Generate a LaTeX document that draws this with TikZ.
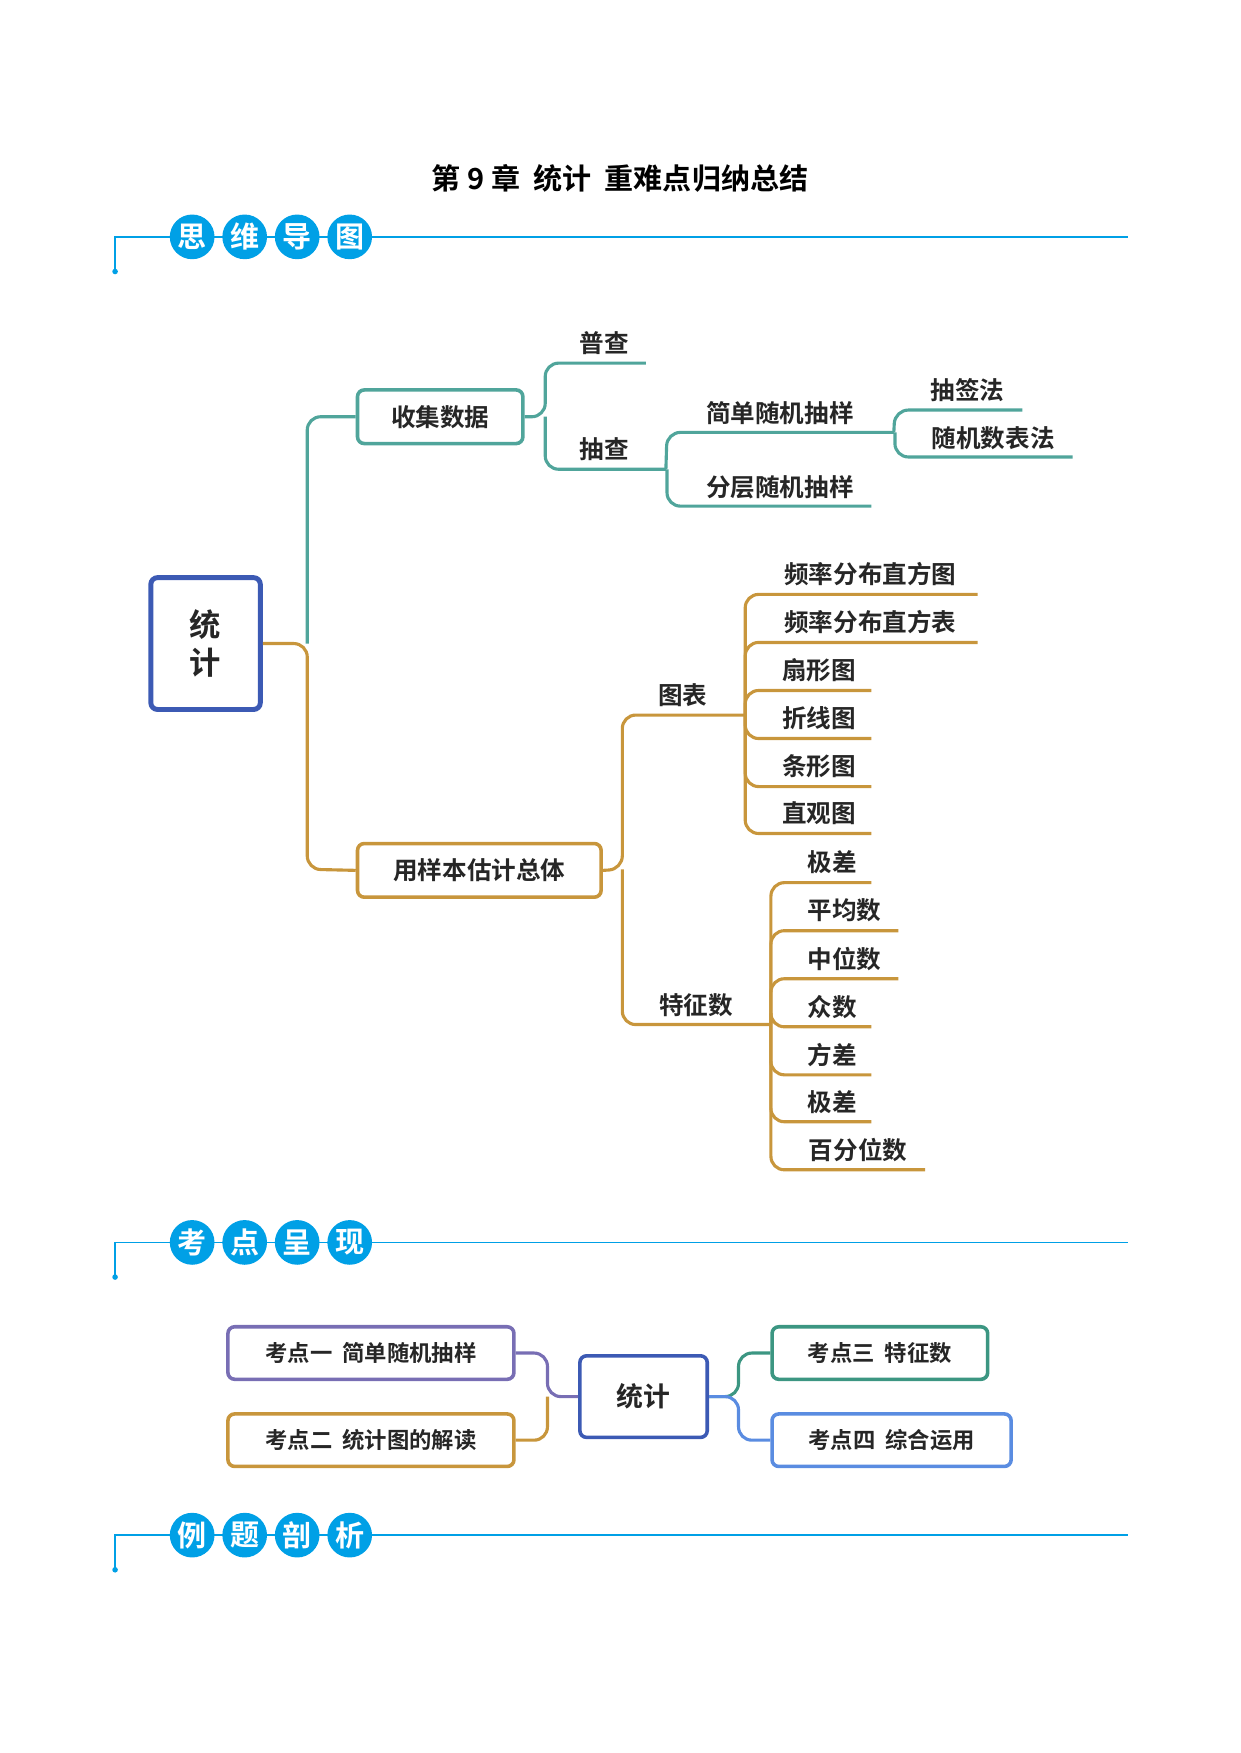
\documentclass[tikz,border=0pt]{standalone}
\usepackage{fontspec}
\newfontfamily\cjk{Noto Sans CJK SC}[BoldFont={* Bold}]
\begin{document}
\begin{tikzpicture}[x=0.5pt,y=-0.5pt,
  lab/.style={font=\cjk\bfseries\fontsize{11}{13}\selectfont, text=black!85},
  cc/.style={line width=1.4pt, rounded corners=6pt},
  bx/.style={draw, line width=1.6pt, rounded corners=3pt, fill=white, lab},
  hc/.style={circle, fill=hd, minimum size=20pt, inner sep=0pt, text=white, font=\cjk\bfseries\fontsize{13}{14}\selectfont}]
\definecolor{hd}{RGB}{0,160,230}
\definecolor{tl}{RGB}{80,165,155}
\definecolor{gd}{RGB}{200,150,60}
\definecolor{bl}{RGB}{60,90,180}
\definecolor{pu}{RGB}{120,110,180}
\definecolor{lb}{RGB}{90,140,225}
\definecolor{tg}{RGB}{60,150,130}
\useasboundingbox (0,0) rectangle (1110,1569);
\node[font=\cjk\bfseries\fontsize{13}{15}\selectfont] (title) at (555,160) {第 9 章\ \ 统计\ \ 重难点归纳总结};
% headers
\foreach \yy/\a/\b/\c/\d in {212/思/维/导/图,1112/考/点/呈/现,1374/例/题/剖/析}{
  \draw[hd, line width=0.8pt] (103,\yy+31) -- (103,\yy) -- (1010,\yy);
  \fill[hd] (103,\yy+31) circle (2.5);
  \node[hc] at (172,\yy) {\a};
  \node[hc] at (219,\yy) {\b};
  \node[hc] at (266,\yy) {\c};
  \node[hc] at (313,\yy) {\d};
}
% root
\node[draw=bl, line width=2.2pt, rounded corners=3pt, minimum width=49pt, minimum height=59pt, lab, font=\cjk\bfseries\fontsize{14}{17}\selectfont, align=center] (root) at (184,576) {统\\计};
\node[bx, draw=tl, minimum width=74pt, minimum height=24pt] (sj) at (394,373) {收集数据};
\node[bx, draw=gd, minimum width=109pt, minimum height=24pt] (yb) at (429,779) {用样本估计总体};
\draw[cc, gd] (root.east) -- (275,576) -- (275,778) -- (yb.west);
\draw[cc, tl] (275,576) -- (275,373) -- (sj.west);
% collect data
\draw[cc, tl] (sj.east) -- (488,373) -- (488,325) -- (578,325);
\draw[cc, tl] (488,373) -- (488,420) -- (596,420);
\node[lab] (pc) at (541,307) {普查};
\node[lab] (cc1) at (541,402) {抽查};
\draw[cc, tl] (596,420) -- (597,387) -- (800,387);
\draw[cc, tl] (597,420) -- (597,453) -- (780,453);
\node[lab] at (698,370) {简单随机抽样};
\node[lab] at (698,436) {分层随机抽样};
\draw[cc, tl] (800,387) -- (801,367) -- (915,367);
\draw[cc, tl] (801,387) -- (801,409) -- (960,409);
\node[lab] at (866,349) {抽签法};
\node[lab] at (889,392) {随机数表法};
% sample
\draw[cc, gd] (yb.east) -- (557,778) -- (557,640) -- (667,640);
\draw[cc, gd] (557,778) -- (557,917) -- (690,917);
\node[lab] at (611,622) {图表};
\node[lab] at (623,900) {特征数};
\foreach \yy/\e/\t/\xx in {532/875/频率分布直方图/779,575/875/频率分布直方表/779,618/780/扇形图/733,661/780/折线图/733,704/780/条形图/733,746/780/直观图/733}{
  \draw[cc, gd] (667,640) -- (667,\yy) -- (\e,\yy);
  \node[lab] at (\xx,\yy-18) {\t};
}
\foreach \yy/\e/\t/\xx in {790/780/极差/745,833/804/平均数/756,876/804/中位数/756,919/780/众数/745,962/780/方差/745,1004/780/极差/745,1047/828/百分位数/768}{
  \draw[cc, gd] (690,917) -- (690,\yy) -- (\e,\yy);
  \node[lab] at (\xx,\yy-18) {\t};
}
% bottom
\node[bx, draw=pu, minimum width=128pt, minimum height=23.5pt, font=\cjk\bfseries\fontsize{10}{12}\selectfont] (k1) at (332,1211) {考点一\ \ 简单随机抽样};
\node[bx, draw=gd, minimum width=128pt, minimum height=23.5pt, font=\cjk\bfseries\fontsize{10}{12}\selectfont] (k2) at (332,1289) {考点二\ \ 统计图的解读};
\node[bx, draw=bl, minimum width=57pt, minimum height=36.5pt, font=\cjk\bfseries\fontsize{12}{14}\selectfont] (tj) at (576,1250) {统计};
\node[bx, draw=tg, minimum width=96.5pt, minimum height=23.5pt, font=\cjk\bfseries\fontsize{10}{12}\selectfont] (k3) at (787.5,1211) {考点三\ \ 特征数};
\node[bx, draw=lb, minimum width=107pt, minimum height=23.5pt, font=\cjk\bfseries\fontsize{10}{12}\selectfont] (k4) at (798,1289) {考点四\ \ 综合运用};
\draw[cc, pu] (k1.east) -- (490,1211) -- (490,1250) -- (tj.west);
\draw[cc, gd] (k2.east) -- (490,1289) -- (490,1250);
\draw[cc, tg] (tj.east) -- (661,1250) -- (661,1211) -- (k3.west);
\draw[cc, lb] (tj.east) -- (661,1250) -- (661,1289) -- (k4.west);
\end{tikzpicture}
\end{document}
